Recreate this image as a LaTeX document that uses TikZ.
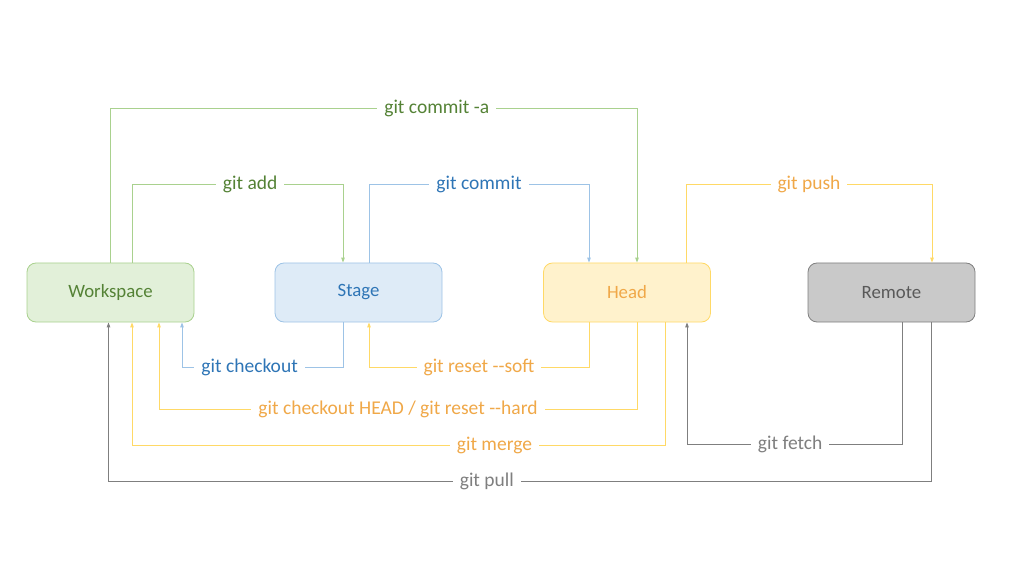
\documentclass[tikz,border=0pt]{standalone}
\usepackage{fontspec}
\setmainfont{Carlito}
\usepackage{xcolor}
\usetikzlibrary{arrows.meta}

\definecolor{wsfill}{HTML}{E2F0D9}
\definecolor{wsline}{HTML}{A9D18E}
\definecolor{wstext}{HTML}{548235}
\definecolor{stfill}{HTML}{DEEBF7}
\definecolor{stline}{HTML}{9DC3E6}
\definecolor{sttext}{HTML}{2E75B6}
\definecolor{hdfill}{HTML}{FFF2CC}
\definecolor{hdline}{HTML}{FFD966}
\definecolor{hdtext}{HTML}{F0A848}
\definecolor{rmfill}{HTML}{C9C9C9}
\definecolor{rmline}{HTML}{7F7F7F}
\definecolor{rmtext}{HTML}{595959}

\begin{document}
\begin{tikzpicture}[x=1pt,y=1pt,
	area/.style = {rounded corners=9pt, draw, line width=0.8pt,
		minimum width=167pt, minimum height=59pt, font=\fontsize{18.8}{22}\selectfont},
	cmd/.style = {fill=white, inner xsep=7pt, inner ysep=2pt, font=\fontsize{19.5}{23}\selectfont},
	flow/.style = {line width=0.9pt, -{Triangle[length=5pt,width=3.5pt]}}]
	\useasboundingbox (0,0) rectangle (1024,576);
	\node[area,fill=wsfill,draw=wsline,text=wstext] at (110.5,283.5) (ws) {Workspace};
	\node[area,fill=stfill,draw=stline,text=sttext] at (358.5,283.5) (st) {Stage};
	\node[area,fill=hdfill,draw=hdline,text=hdtext] at (627,283.5) (hd) {Head};
	\node[area,fill=rmfill,draw=rmline,text=rmtext] at (891.5,283.5) (rm) {Remote};
	% upper commands
	\draw[flow,wsline] ([xshift=-0.5pt]ws.north) -- ++(0,154) -| node[cmd,text=wstext,pos=.31] {git commit -a} ([xshift=10pt]hd.north);
	\draw[flow,wsline] ([xshift=21.5pt]ws.north) -- ++(0,78) -| node[cmd,text=wstext,pos=.28] {git add} ([xshift=-15.5pt]st.north);
	\draw[flow,stline] ([xshift=10.5pt]st.north) -- ++(0,78) -| node[cmd,text=sttext,pos=.25] {git commit} ([xshift=-38pt]hd.north);
	\draw[flow,hdline] ([xshift=59pt]hd.north) -- ++(0,78) -| node[cmd,text=hdtext,pos=.25] {git push} ([xshift=40.5pt]rm.north);
	% lower commands
	\draw[flow,stline] ([xshift=-15.5pt]st.south) -- ++(0,-45) -| node[cmd,text=sttext,pos=.29] {git checkout} ([xshift=71.5pt]ws.south);
	\draw[flow,hdline] ([xshift=-38pt]hd.south) -- ++(0,-45) -| node[cmd,text=hdtext,pos=.25] {git reset -{}-soft} ([xshift=10.5pt]st.south);
	\draw[flow,hdline] ([xshift=10pt]hd.south) -- ++(0,-87) -| node[cmd,text=hdtext,pos=.25] {git checkout HEAD / git reset -{}-hard} ([xshift=48.5pt]ws.south);
	\draw[flow,hdline] ([xshift=38pt]hd.south) -- ++(0,-123) -| node[cmd,text=hdtext,pos=.16] {git merge} ([xshift=21.5pt]ws.south);
	\draw[flow,rmline] ([xshift=10.5pt]rm.south) -- ++(0,-122) -| node[cmd,text=rmline,pos=.26] {git fetch} ([xshift=60pt]hd.south);
	\draw[flow,rmline] ([xshift=39.5pt]rm.south) -- ++(0,-159) -| node[cmd,text=rmline,pos=.27] {git pull} ([xshift=-2pt]ws.south);
\end{tikzpicture}
\end{document}
